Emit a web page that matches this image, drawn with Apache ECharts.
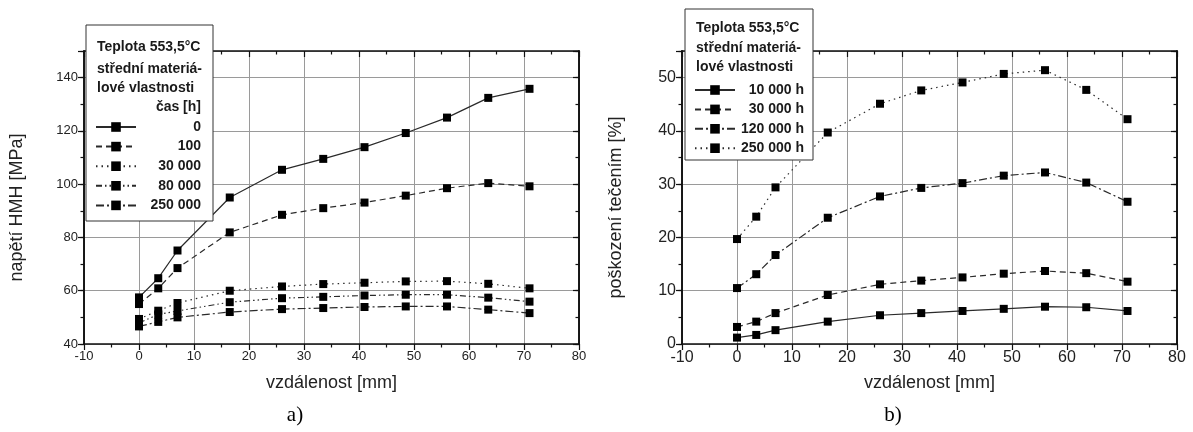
<!DOCTYPE html>
<html>
<head>
<meta charset="utf-8">
<script src="https://cdn.jsdelivr.net/npm/echarts@6/dist/echarts.min.js"></script>
<style>
  html, body { margin: 0; padding: 0; background: #fff; }
  #chart { width: 1193px; height: 432px; }
</style>
</head>
<body>
<div id="chart"></div>
<script>
// Distance from the reference point [mm] — shared by both panels
const distance = [0, 3.5, 7, 16.5, 26, 33.5, 41, 48.5, 56, 63.5, 71];

// a) von Mises stress [MPa] for each operating time [h]
const stressNames = ['0', '100', '30 000', '80 000', '250 000'];
const stress0      = [57.5, 64.7, 75.1, 95.0, 105.4, 109.5, 113.9, 119.2, 125.0, 132.4, 135.8];
const stress100    = [55.0, 60.9, 68.5, 81.9, 88.5, 91.0, 93.1, 95.7, 98.5, 100.4, 99.2];
const stress30000  = [49.4, 52.5, 55.4, 60.0, 61.6, 62.5, 63.0, 63.5, 63.6, 62.6, 60.9];
const stress80000  = [47.9, 51.1, 52.4, 55.7, 57.2, 57.7, 58.2, 58.5, 58.5, 57.4, 55.9];
const stress250000 = [46.6, 48.3, 50.0, 52.0, 53.1, 53.5, 53.9, 54.1, 54.1, 52.9, 51.6];

// b) creep damage [%] for each operating time
const damageNames = ['10 000 h', '30 000 h', '120 000 h', '250 000 h'];
const damage10000  = [1.2, 1.7, 2.6, 4.2, 5.4, 5.8, 6.2, 6.6, 7.0, 6.9, 6.2];
const damage30000  = [3.2, 4.2, 5.8, 9.2, 11.2, 11.9, 12.5, 13.2, 13.7, 13.3, 11.7];
const damage120000 = [10.5, 13.1, 16.7, 23.7, 27.7, 29.3, 30.2, 31.6, 32.2, 30.3, 26.7];
const damage250000 = [19.7, 23.9, 29.4, 39.7, 45.1, 47.6, 49.1, 50.7, 51.4, 47.7, 42.2];

// Header lines of the two legend boxes
const headerA = ['Teplota 553,5°C', 'střední materiá-', 'lové vlastnosti'];
const headerB = ['Teplota 553,5°C', 'střední materiá-', 'lové vlastnosti'];

const stressSets = [stress0, stress100, stress30000, stress80000, stress250000];
const damageSets = [damage10000, damage30000, damage120000, damage250000];

const SOLID = 'solid';
const DASH = [6, 4];
const DOT = [1.5, 4];
const DASH_DOT_DOT = [6, 3, 1.5, 3, 1.5, 3];
const DASH_DOT = [8, 3, 2, 3];
const stressTypes = [SOLID, DASH, DOT, DASH_DOT_DOT, DASH_DOT];
const damageTypes = [SOLID, DASH, DASH_DOT, DOT];

const FONT = 'Liberation Sans, Arial, sans-serif';
const GRID_COLOR = '#9a9a9a';

function toPairs(ys) { return distance.map((x, i) => [x, ys[i]]); }

function lineSeries(name, ys, type, xIdx, yIdx) {
  return {
    type: 'line', name: name, data: toPairs(ys),
    xAxisIndex: xIdx, yAxisIndex: yIdx,
    symbol: 'rect', symbolSize: 8,
    itemStyle: { color: '#000' },
    lineStyle: { color: '#2a2a2a', width: 1.2, type: type },
    emphasis: { disabled: true },
    animation: false, z: 3
  };
}

// x axes: bottom (labelled) and top (frame, inward ticks)
function xAxes(gridIndex, labelSize, titleSize) {
  return [
    {
      gridIndex, type: 'value', position: 'bottom', min: -10, max: 80, interval: 10,
      name: 'vzdálenost [mm]', nameLocation: 'middle', nameGap: 30,
      nameTextStyle: { fontFamily: FONT, fontSize: titleSize, color: '#222' },
      axisLine: { show: true, onZero: false, lineStyle: { color: '#111', width: 1.6 } },
      axisTick: { show: true, inside: false, length: 6, lineStyle: { color: '#111', width: 1.2 } },
      minorTick: { show: true, splitNumber: 2, length: 3.5, lineStyle: { color: '#111', width: 1.2 } },
      axisLabel: { fontFamily: FONT, fontSize: labelSize, color: '#222', margin: 6 },
      splitLine: { show: true, lineStyle: { color: GRID_COLOR, width: 1 } }
    },
    {
      gridIndex, type: 'value', position: 'top', min: -10, max: 80, interval: 10,
      axisLine: { show: true, onZero: false, lineStyle: { color: '#111', width: 1.6 } },
      axisTick: { show: true, inside: true, length: 6, lineStyle: { color: '#111', width: 1.2 } },
      minorTick: { show: true, splitNumber: 2, length: 3.5, lineStyle: { color: '#111', width: 1.2 } },
      axisLabel: { show: false },
      splitLine: { show: false }
    }
  ];
}

// y axes: left labelled major, left minor, right major, right minor
function yAxes(gridIndex, min, max, major, minor, title, labelSize, titleSize, nameGap) {
  const base = { gridIndex, type: 'value', min, max };
  const line = { show: true, onZero: false, lineStyle: { color: '#111', width: 1.6 } };
  const tick = (inside, len) => ({ show: true, inside, length: len, lineStyle: { color: '#111', width: 1.2 } });
  return [
    Object.assign({}, base, {
      position: 'left', interval: major,
      name: title, nameLocation: 'middle', nameGap: nameGap,
      nameTextStyle: { fontFamily: FONT, fontSize: titleSize, color: '#222', padding: [0, 20, 0, 0] },
      axisLine: line, axisTick: tick(false, 6),
      axisLabel: {
        fontFamily: FONT, fontSize: labelSize, color: '#222', margin: 6,
        formatter: v => ((v - min) % major === 0 ? String(v) : '')
      },
      splitLine: { show: true, lineStyle: { color: GRID_COLOR, width: 1 } }
    }),
    Object.assign({}, base, {
      position: 'left', interval: minor,
      axisLine: line, axisTick: tick(false, 3.5),
      axisLabel: { show: false }, splitLine: { show: false }
    }),
    Object.assign({}, base, {
      position: 'right', interval: major,
      axisLine: line, axisTick: tick(true, 6),
      axisLabel: { show: false }, splitLine: { show: false }
    }),
    Object.assign({}, base, {
      position: 'right', interval: minor,
      axisLine: line, axisTick: tick(true, 3.5),
      axisLabel: { show: false }, splitLine: { show: false }
    })
  ];
}

function legendBox(x, y, w, h) {
  return {
    type: 'rect', z: 100, silent: true,
    shape: { x, y, width: w, height: h },
    style: { fill: '#fff', stroke: '#333', lineWidth: 1 }
  };
}

function legendText(text, x, y, align) {
  return {
    type: 'text', z: 101, silent: true, x, y,
    style: {
      text, fill: '#1a1a1a', font: 'bold 14px ' + FONT,
      textAlign: align || 'left', textVerticalAlign: 'middle'
    }
  };
}

const series = [];
stressSets.forEach((ys, i) => series.push(lineSeries(stressNames[i], ys, stressTypes[i], 0, 0)));
damageSets.forEach((ys, i) => series.push(lineSeries(damageNames[i], ys, damageTypes[i], 2, 4)));

function legend(names, left, top, textWidth, gap) {
  return {
    data: names, orient: 'vertical', left, top, padding: 0,
    itemWidth: 40, itemHeight: 12, itemGap: gap, z: 110,
    selectedMode: false,
    formatter: n => '{r|' + n + '}',
    textStyle: {
      rich: { r: { width: textWidth, height: 14, lineHeight: 14, align: 'right', fontFamily: FONT, fontSize: 14, fontWeight: 'bold', color: '#1a1a1a' } }
    }
  };
}

const option = {
  backgroundColor: '#fff',
  animation: false,
  grid: [
    { left: 84, top: 51, width: 495, height: 293 },
    { left: 682, top: 51, width: 495, height: 293 }
  ],
  xAxis: xAxes(0, 13, 18).concat(xAxes(1, 16, 18)),
  yAxis: yAxes(0, 40, 150, 20, 10, 'napětí HMH [MPa]', 13, 18, 58)
    .concat(yAxes(1, 0, 55, 10, 5, 'poškození tečením [%]', 16, 18, 57)),
  legend: [
    legend(stressNames, 95, 120, 60, 5.6),
    legend(damageNames, 694, 83, 64, 5.4)
  ],
  graphic: [
    legendBox(86, 25, 127, 196),
    legendText(headerA[0], 97, 47),
    legendText(headerA[1], 97, 69),
    legendText(headerA[2], 97, 88),
    legendText('čas [h]', 201, 107, 'right'),
    legendBox(685, 9, 128, 151),
    legendText(headerB[0], 696, 28),
    legendText(headerB[1], 696, 48),
    legendText(headerB[2], 696, 67),
    {
      type: 'text', silent: true, x: 295, y: 415,
      style: { text: 'a)', fill: '#000', font: '21px Liberation Serif, Times New Roman, serif', textAlign: 'center', textVerticalAlign: 'middle' }
    },
    {
      type: 'text', silent: true, x: 893, y: 415,
      style: { text: 'b)', fill: '#000', font: '21px Liberation Serif, Times New Roman, serif', textAlign: 'center', textVerticalAlign: 'middle' }
    }
  ],
  series
};

const chart = echarts.init(document.getElementById('chart'), null, { renderer: 'canvas' });
chart.setOption(option);
</script>
</body>
</html>
